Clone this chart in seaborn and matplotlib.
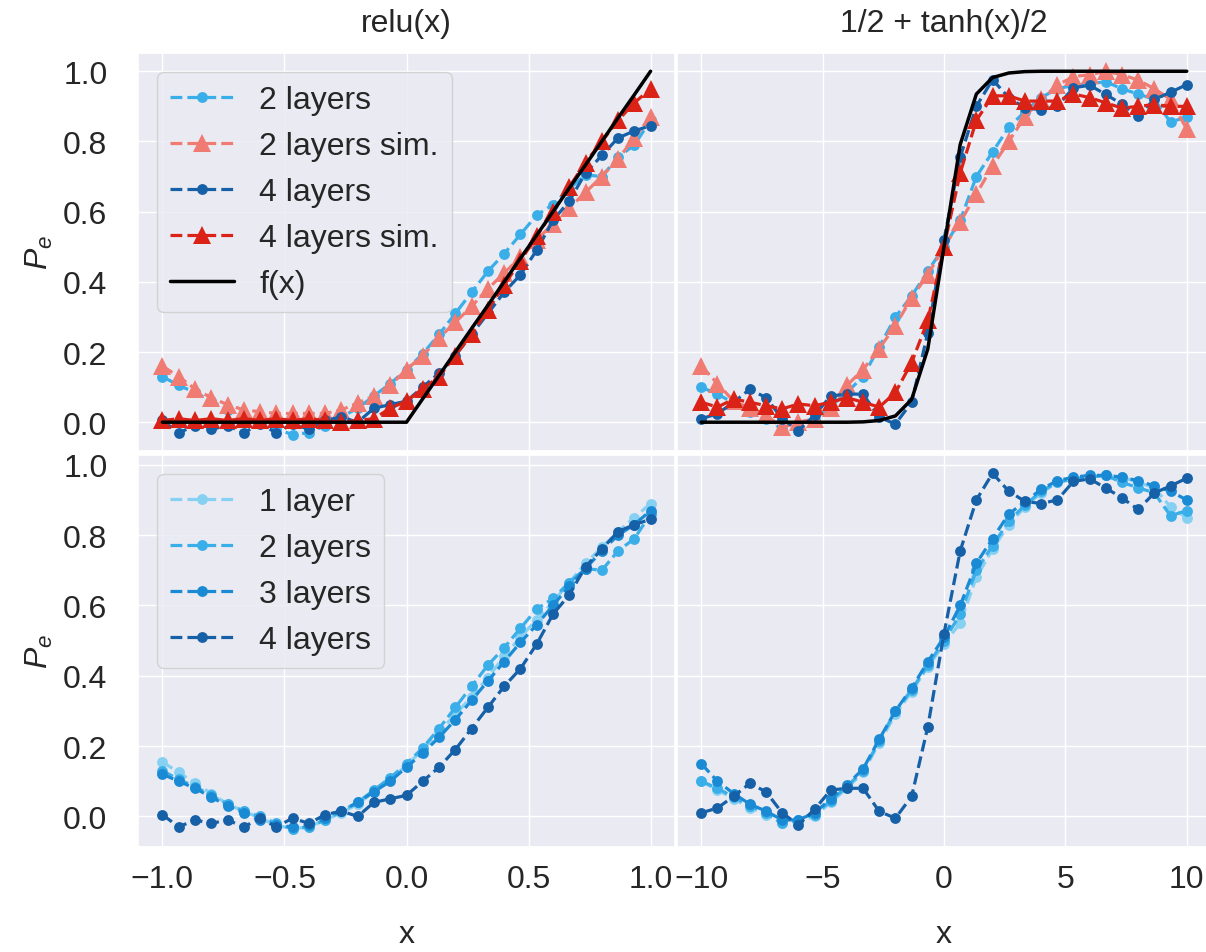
import numpy as np
import matplotlib
matplotlib.use("Agg")
import matplotlib.pyplot as plt
import seaborn as sns

# ---------------- data ----------------
x_relu = np.linspace(-1.0, 1.0, 31)
x_tanh = np.linspace(-10.0, 10.0, 31)

relu_f = [0.0] * 16 + [0.067, 0.133, 0.2, 0.267, 0.333, 0.4, 0.467, 0.533, 0.6,
                       0.667, 0.733, 0.8, 0.867, 0.933, 1.0]
relu_1layer = [0.155, 0.125, 0.095, 0.065, 0.035, 0.015, -0.005, -0.025, -0.035, -0.03,
               -0.01, 0.01, 0.035, 0.07, 0.105, 0.145, 0.19, 0.24, 0.29, 0.34, 0.395,
               0.455, 0.51, 0.56, 0.61, 0.665, 0.72, 0.765, 0.81, 0.85, 0.89]
relu_2layers = [0.13, 0.105, 0.085, 0.06, 0.035, 0.015, 0.0, -0.02, -0.035, -0.03,
                -0.01, 0.015, 0.04, 0.075, 0.11, 0.15, 0.195, 0.25, 0.31, 0.37, 0.43,
                0.48, 0.535, 0.59, 0.62, 0.665, 0.705, 0.70, 0.755, 0.79, 0.86]
relu_3layers = [0.12, 0.10, 0.08, 0.055, 0.03, 0.01, -0.01, -0.025, -0.03, -0.025,
                -0.005, 0.015, 0.04, 0.07, 0.10, 0.14, 0.18, 0.225, 0.275, 0.33, 0.385,
                0.44, 0.495, 0.545, 0.60, 0.655, 0.705, 0.755, 0.80, 0.83, 0.87]
relu_4layers = [0.005, -0.03, -0.01, -0.02, -0.01, -0.03, -0.005, -0.03, -0.005, -0.02,
                0.005, 0.015, 0.0, 0.04, 0.05, 0.06, 0.10, 0.14, 0.19, 0.25, 0.31,
                0.37, 0.42, 0.49, 0.575, 0.63, 0.71, 0.76, 0.81, 0.83, 0.845]
relu_2sim = [0.16, 0.13, 0.095, 0.07, 0.05, 0.035, 0.03, 0.025, 0.025, 0.025,
             0.025, 0.035, 0.055, 0.075, 0.105, 0.15, 0.19, 0.24, 0.285, 0.33, 0.38,
             0.425, 0.47, 0.52, 0.565, 0.61, 0.655, 0.70, 0.75, 0.81, 0.87]
relu_4sim = [0.005, 0.01, 0.005, 0.01, 0.005, 0.01, 0.005, 0.01, 0.005, 0.01,
             0.005, 0.0, 0.005, 0.01, 0.04, 0.06, 0.095, 0.13, 0.19, 0.25, 0.32,
             0.39, 0.46, 0.53, 0.60, 0.67, 0.74, 0.80, 0.86, 0.91, 0.95]

tanh_f = [0.0] * 10 + [0.001, 0.005, 0.018, 0.065, 0.209, 0.5, 0.791, 0.935, 0.982,
                       0.995, 0.999] + [1.0] * 10
tanh_1layer = [0.10, 0.075, 0.05, 0.025, 0.005, -0.02, -0.015, 0.0, 0.04, 0.08,
               0.125, 0.21, 0.29, 0.355, 0.425, 0.49, 0.55, 0.68, 0.76, 0.83, 0.88,
               0.92, 0.95, 0.96, 0.965, 0.97, 0.965, 0.95, 0.935, 0.88, 0.85]
tanh_2layers = [0.10, 0.08, 0.055, 0.03, 0.01, -0.02, -0.01, 0.005, 0.045, 0.085,
                0.13, 0.215, 0.30, 0.36, 0.43, 0.50, 0.575, 0.70, 0.77, 0.84, 0.885,
                0.925, 0.95, 0.96, 0.965, 0.97, 0.95, 0.935, 0.92, 0.855, 0.87]
tanh_3layers = [0.15, 0.10, 0.065, 0.035, 0.015, -0.01, -0.01, 0.01, 0.05, 0.09,
                0.135, 0.22, 0.30, 0.365, 0.44, 0.51, 0.60, 0.72, 0.79, 0.86, 0.895,
                0.93, 0.955, 0.965, 0.97, 0.97, 0.965, 0.955, 0.94, 0.925, 0.90]
tanh_4layers = [0.01, 0.024, 0.057, 0.094, 0.07, 0.01, -0.024, 0.02, 0.075, 0.08,
                0.08, 0.014, -0.005, 0.057, 0.255, 0.52, 0.755, 0.90, 0.976, 0.925,
                0.896, 0.89, 0.90, 0.953, 0.96, 0.934, 0.906, 0.873, 0.92, 0.94, 0.962]
tanh_2sim = [0.16, 0.11, 0.06, 0.04, 0.02, -0.015, 0.0, 0.01, 0.04, 0.105,
             0.15, 0.21, 0.275, 0.355, 0.42, 0.50, 0.57, 0.65, 0.73, 0.80, 0.87,
             0.92, 0.96, 0.985, 0.99, 1.0, 0.99, 0.975, 0.95, 0.92, 0.835]
tanh_4sim = [0.057, 0.043, 0.066, 0.057, 0.047, 0.038, 0.052, 0.047, 0.057, 0.07,
             0.057, 0.043, 0.085, 0.17, 0.29, 0.50, 0.71, 0.86, 0.93, 0.93, 0.915,
             0.915, 0.915, 0.935, 0.925, 0.91, 0.895, 0.90, 0.905, 0.90, 0.90]

titles = ["relu(x)", "1/2 + tanh(x)/2"]
top_labels = ["2 layers", "2 layers sim.", "4 layers", "4 layers sim.", "f(x)"]
bottom_labels = ["1 layer", "2 layers", "3 layers", "4 layers"]

# ---------------- style ----------------
sns.set_theme(style="darkgrid")
plt.rcParams["font.family"] = ["Liberation Sans", "DejaVu Sans"]
plt.rcParams["mathtext.fontset"] = "custom"
plt.rcParams["mathtext.it"] = "Liberation Sans:italic"
plt.rcParams["mathtext.rm"] = "Liberation Sans"

FS = 23
TXT = "#262626"
C1 = "#86d0f2"
C2 = "#3aaee8"
C3 = "#1a8ad4"
C4 = "#1560a6"
CS2 = "#ef7b72"
CS4 = "#da2216"

W, H = 1206, 953
fig = plt.figure(figsize=(W / 100, H / 100), dpi=100)


def box(x0, y0, x1, y1):
    return [x0 / W, 1 - y1 / H, (x1 - x0) / W, (y1 - y0) / H]


ax_tl = fig.add_axes(box(138, 54, 675, 452))
ax_tr = fig.add_axes(box(677, 54, 1211, 452))
ax_bl = fig.add_axes(box(138, 456, 675, 848))
ax_br = fig.add_axes(box(677, 456, 1211, 848))


def dots(ax, x, y, color, label):
    sns.lineplot(x=x, y=y, ax=ax, color=color, marker="o", markersize=7.8,
                 markeredgewidth=0, linestyle="--", linewidth=2.3, label=label,
                 sort=False, estimator=None)


def tris(ax, x, y, color, label):
    sns.lineplot(x=x, y=y, ax=ax, color=color, marker="^", markersize=12.5,
                 markeredgewidth=0, linestyle="--", linewidth=2.3, label=label,
                 sort=False, estimator=None)


def fline(ax, x, y, label):
    sns.lineplot(x=x, y=y, ax=ax, color="black", linewidth=2.5, label=label,
                 sort=False, estimator=None)


# top row
for ax, x, d2, s2, d4, s4, f in [
    (ax_tl, x_relu, relu_2layers, relu_2sim, relu_4layers, relu_4sim, relu_f),
    (ax_tr, x_tanh, tanh_2layers, tanh_2sim, tanh_4layers, tanh_4sim, tanh_f),
]:
    dots(ax, x, d2, C2, top_labels[0])
    tris(ax, x, s2, CS2, top_labels[1])
    dots(ax, x, d4, C4, top_labels[2])
    tris(ax, x, s4, CS4, top_labels[3])
    fline(ax, x, f, top_labels[4])

# bottom row
for ax, x, series in [
    (ax_bl, x_relu, [relu_1layer, relu_2layers, relu_3layers, relu_4layers]),
    (ax_br, x_tanh, [tanh_1layer, tanh_2layers, tanh_3layers, tanh_4layers]),
]:
    for y, c, lab in zip(series, [C1, C2, C3, C4], bottom_labels):
        dots(ax, x, y, c, lab)

yt = [0.0, 0.2, 0.4, 0.6, 0.8, 1.0]
for ax in [ax_tl, ax_tr, ax_bl, ax_br]:
    ax.set_yticks(yt)
    ax.tick_params(labelsize=FS, length=0, labelcolor=TXT)
    ax.tick_params(axis="y", pad=22)
    ax.tick_params(axis="x", pad=12)
    ax.set_xlabel("")
    ax.set_ylabel("")

for ax in [ax_tl, ax_bl]:
    ax.set_xlim(-1.1, 1.1)
    ax.set_xticks([-1.0, -0.5, 0.0, 0.5, 1.0])
for ax in [ax_tr, ax_br]:
    ax.set_xlim(-11, 11)
    ax.set_xticks([-10, -5, 0, 5, 10])
    ax.tick_params(labelleft=False)
for ax in [ax_tl, ax_tr]:
    ax.set_ylim(-0.082, 1.052)
    ax.tick_params(labelbottom=False)
for ax in [ax_bl, ax_br]:
    ax.set_ylim(-0.087, 1.028)
    ax.set_xlabel("x", fontsize=FS, labelpad=18, color=TXT)

for ax in [ax_tl, ax_bl]:
    ax.set_ylabel("$P_e$", fontsize=FS, labelpad=6, color=TXT)

ax_tl.set_title(titles[0], fontsize=FS, pad=16, color=TXT)
ax_tr.set_title(titles[1], fontsize=FS, pad=16, color=TXT)

for ax in [ax_tl, ax_bl]:
    ax.legend(loc="upper left", fontsize=FS, borderaxespad=0.6)
for ax in [ax_tr, ax_br]:
    lg = ax.get_legend()
    if lg is not None:
        lg.remove()

fig.savefig("out.png", dpi=100)
